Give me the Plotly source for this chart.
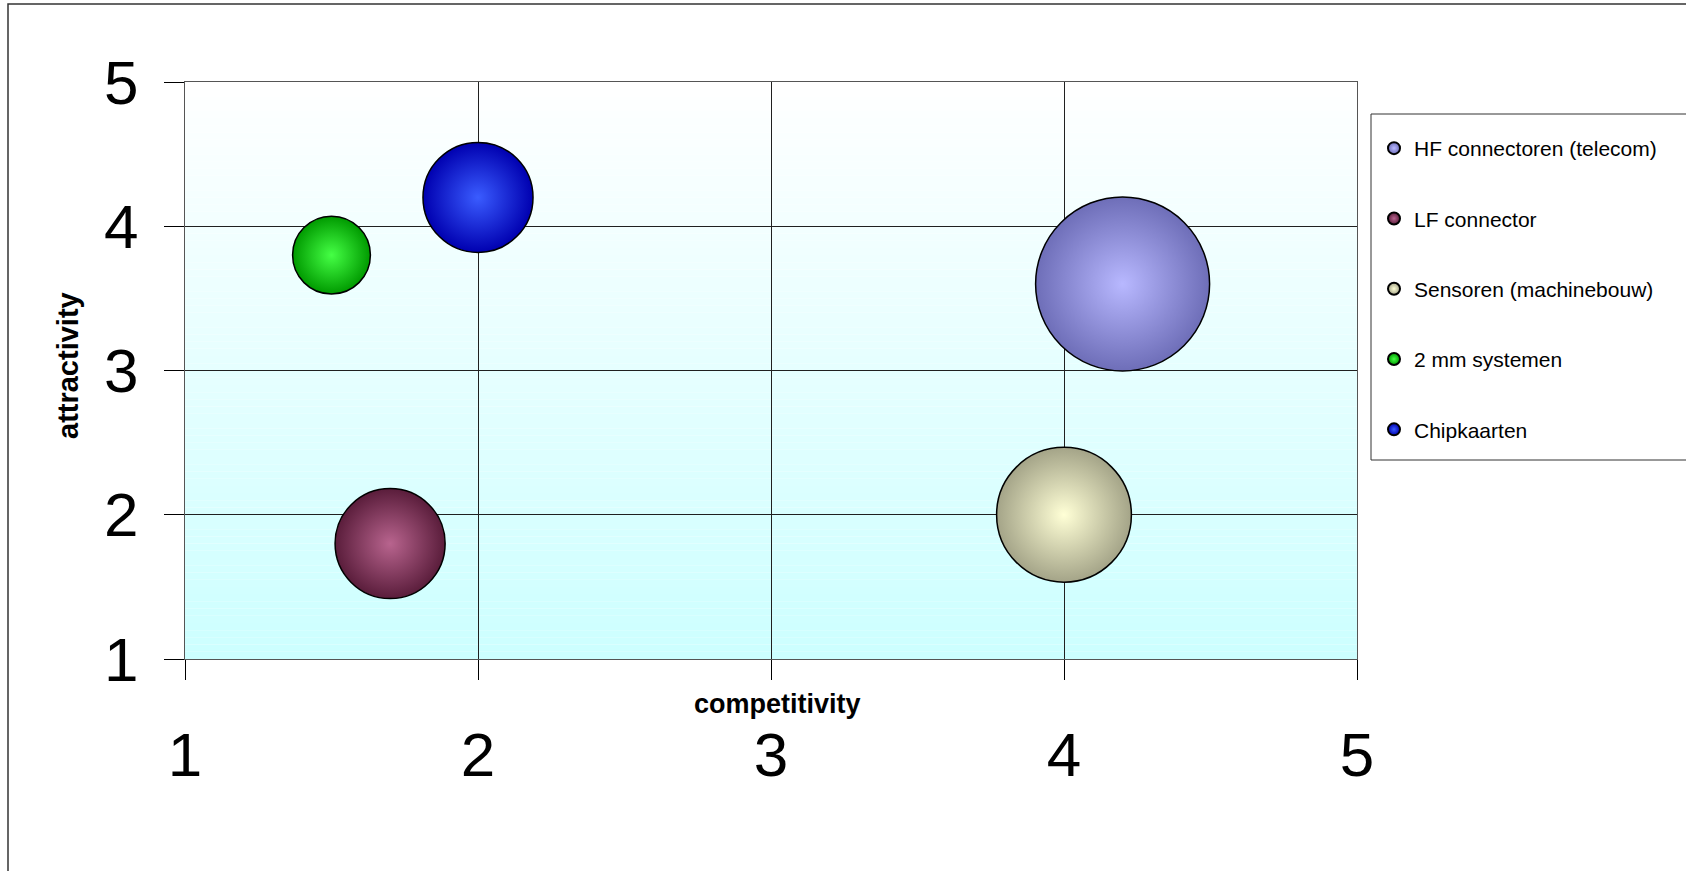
import plotly.graph_objects as go

# ---- data ----
names = ["HF connectoren (telecom)", "LF connector", "Sensoren (machinebouw)", "2 mm systemen", "Chipkaarten"]
competitivity = [4.2, 1.7, 4.0, 1.5, 2.0]
attractivity = [3.6, 1.8, 2.0, 3.8, 4.2]
bubble_size = [5, 2, 3, 1, 2]
x_ticks = [1, 2, 3, 4, 5]
y_ticks = [1, 2, 3, 4, 5]

# ---- style ----
edge_colors = ["#6e6eb8", "#5a1d3b", "#a4a488", "#009a00", "#0000b0"]
center_colors = ["#b8b8ff", "#b8648e", "#ffffd6", "#45ff45", "#3a5cff"]
FONT = "Arial, Liberation Sans, sans-serif"
W, H = 1686, 871
L, R, T, B = 185, 1357, 82, 659
MAX_D = 174
sizeref = 2.0 * max(bubble_size) / (MAX_D ** 2)

fig = go.Figure()
for i in range(len(names)):
    fig.add_trace(go.Scatter(
        x=[competitivity[i]], y=[attractivity[i]], name=names[i],
        mode="markers", legendgroup=f"g{i}",
        marker=dict(size=[bubble_size[i]], sizemode="area", sizeref=sizeref,
                    color=edge_colors[i], opacity=1,
                    gradient=dict(type="radial", color=center_colors[i]),
                    line=dict(color="black", width=1.5)),
        cliponaxis=False,
    ))

# background gradient bands (white at top -> light cyan at bottom)
shapes = []
N = 80
for k in range(N):
    t = (k + 0.5) / N  # 0 bottom -> 1 top
    r = int(round(204 + (255 - 204) * t))
    shapes.append(dict(type="rect", xref="x domain", yref="y domain",
                       x0=0, x1=1, y0=k / N, y1=(k + 1) / N,
                       fillcolor=f"rgb({r},255,255)", line=dict(width=0), layer="below"))

pw, ph = R - L, B - T
def px(xp):
    return (xp - L) / pw
def py(yp):
    return (B - yp) / ph

# outer chart border
shapes.append(dict(type="rect", xref="paper", yref="paper",
                   x0=px(8), x1=px(1760), y0=py(960), y1=py(4),
                   line=dict(color="#333333", width=1.5), fillcolor="rgba(0,0,0,0)"))
# legend box
shapes.append(dict(type="rect", xref="paper", yref="paper",
                   x0=px(1371), x1=px(1760), y0=py(460), y1=py(114),
                   line=dict(color="#333333", width=1), fillcolor="rgba(0,0,0,0)"))

axis_common = dict(showgrid=True, gridcolor="#202020", gridwidth=1,
                   showline=True, linecolor="#555555", linewidth=1, mirror=True,
                   ticks="outside", ticklen=20, tickwidth=1, tickcolor="black",
                   tickfont=dict(family=FONT, size=62, color="black"),
                   zeroline=False)

fig.update_layout(
    width=W, height=H,
    margin=dict(l=L, r=W - R, t=T, b=H - B, autoexpand=False),
    paper_bgcolor="white", plot_bgcolor="white",
    shapes=shapes,
    xaxis=dict(range=[1, 5], tickvals=x_ticks, ticklabelstandoff=22, **axis_common),
    yaxis=dict(range=[1, 5], tickvals=y_ticks, ticklabelstandoff=13, **axis_common),
    showlegend=True,
    legend=dict(x=px(1374), y=py(128), xanchor="left", yanchor="top",
                font=dict(family=FONT, size=21, color="black"),
                bgcolor="rgba(0,0,0,0)", borderwidth=0,
                itemsizing="constant", tracegroupgap=40, traceorder="grouped"),
    annotations=[
        dict(text="<b>competitivity</b>", xref="paper", yref="paper",
             x=px(777), y=py(704), xanchor="center", yanchor="middle",
             showarrow=False, font=dict(family=FONT, size=27, color="black")),
        dict(text="<b>attractivity</b>", xref="paper", yref="paper",
             x=px(68), y=py(366), xanchor="center", yanchor="middle", textangle=-90,
             showarrow=False, font=dict(family=FONT, size=29, color="black")),
    ],
)

fig.write_html("out.html")
